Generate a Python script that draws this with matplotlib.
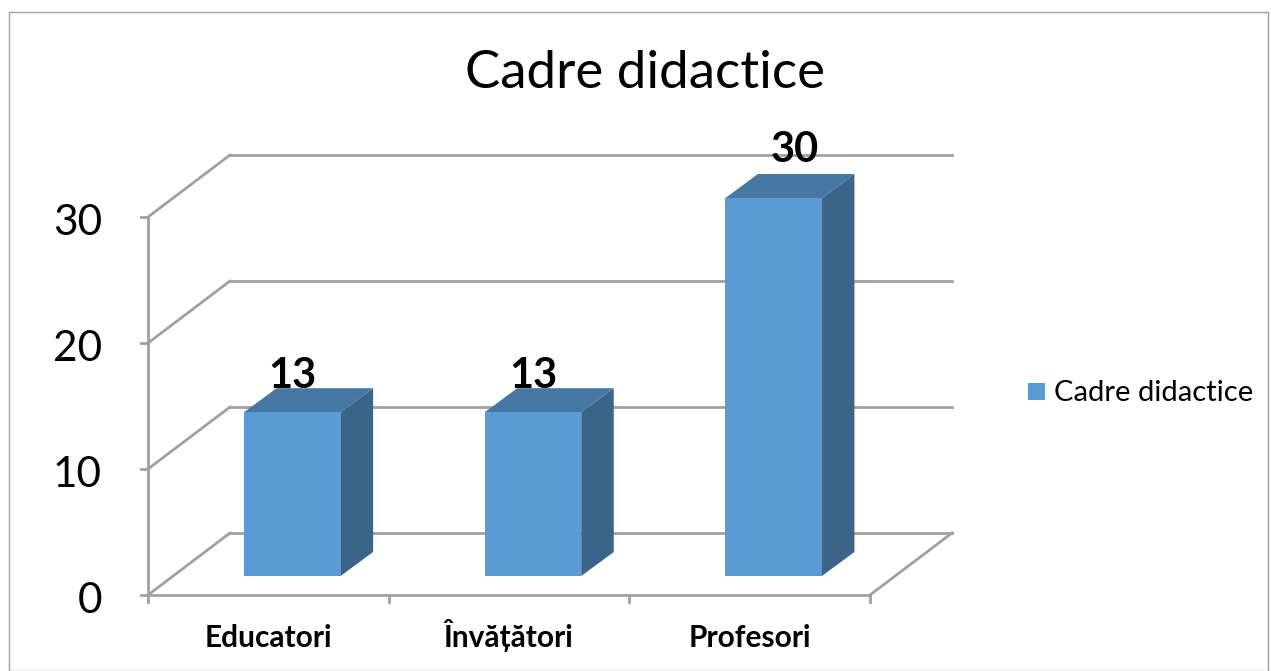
import matplotlib
matplotlib.use('Agg')
import matplotlib.pyplot as plt
from matplotlib.patches import Polygon, Rectangle

categories = ['Educatori', 'Învățători', 'Profesori']
values = [13, 13, 30]
y_ticks = [0, 10, 20, 30]
series_name = 'Cadre didactice'

W, H = 1271, 671
plt.rcParams['font.family'] = ['Lato', 'DejaVu Sans']

fig = plt.figure(figsize=(W / 100, H / 100), dpi=100, facecolor='white')
# front plane of the 3d box, in pixels of the picture
ax = fig.add_axes([148 / W, 1 - 595 / H, 722 / W, 378 / H])
ax.set_xlim(0, 3)
ax.set_ylim(0, 30)
ax.axis('off')

px_x = 3 / 722
px_y = 30 / 378
depth_x = 82 * px_x
depth_y = 62 * px_y
grey = '#a0a0a0'
lw = 2

# outer border
fig.add_artist(Rectangle((9 / W, 0), (W - 12) / W, 1 - 12 / H, transform=fig.transFigure,
                         fill=False, edgecolor='#a0a0a0', linewidth=1))

# walls
for v in y_ticks:
    ax.plot([0, depth_x], [v, v + depth_y], color=grey, lw=lw, clip_on=False)
    ax.plot([depth_x, 3 + depth_x], [v + depth_y, v + depth_y], color=grey, lw=lw, clip_on=False)
    ax.plot([-7 * px_x, 0], [v, v], color=grey, lw=lw, clip_on=False)
ax.plot([0, 0], [0, 30], color=grey, lw=lw, clip_on=False)
ax.plot([0, 3], [0, 0], color=grey, lw=lw, clip_on=False)
ax.plot([3, 3 + depth_x], [0, depth_y], color=grey, lw=lw, clip_on=False)
for i in range(4):
    ax.plot([i, i], [0, -7 * px_y], color=grey, lw=lw, clip_on=False)

# tick labels
for v in y_ticks:
    ax.text(-46 * px_x, v - 6 * px_y, str(v), ha='right', va='center', fontsize=30.5, color='black')
for i, name in enumerate(categories):
    ax.text(i + 0.5, -52 * px_y, name, ha='center', va='baseline', fontsize=21.5,
            fontweight='bold', color='black')

# bars
bar_w = 96.5 * px_x
shift_x = 24 * px_x
shift_y = 19 * px_y
bar_dx = 32.5 * px_x
bar_dy = 24 * px_y
# label offset from the top of each bar, in pixels
label_dx = [0, 0, 21]
label_dy = [36, 36, 48]
for i, v in enumerate(values):
    left = i + 0.5 - bar_w / 2 + shift_x
    right = left + bar_w
    bottom = shift_y
    top = v + shift_y
    ax.add_patch(Polygon([(right, bottom), (right + bar_dx, bottom + bar_dy),
                          (right + bar_dx, top + bar_dy), (right, top)],
                         facecolor='#3b6489', edgecolor='none', clip_on=False, zorder=3))
    ax.add_patch(Polygon([(left, top), (right, top), (right + bar_dx, top + bar_dy),
                          (left + bar_dx, top + bar_dy)],
                         facecolor='#4677a3', edgecolor='none', clip_on=False, zorder=3))
    ax.add_patch(Rectangle((left, bottom), bar_w, v, facecolor='#5b9bd5', edgecolor='none',
                           clip_on=False, zorder=4))
    ax.text(left + bar_w / 2 + label_dx[i] * px_x, top + label_dy[i] * px_y, str(v), ha='center',
            va='center', fontsize=30, fontweight='bold', color='black', zorder=5)

# title and legend
fig.text(645 / W, 1 - 74 / H, series_name, ha='center', va='center', fontsize=38, color='black')
fig.add_artist(Rectangle((1028 / W, 1 - 400 / H), 17 / W, 17 / H, transform=fig.transFigure,
                         facecolor='#5b9bd5', edgecolor='none'))
fig.text(1054 / W, 1 - 393 / H, series_name, ha='left', va='center', fontsize=21, color='black')

fig.savefig('out.png', dpi=100)
